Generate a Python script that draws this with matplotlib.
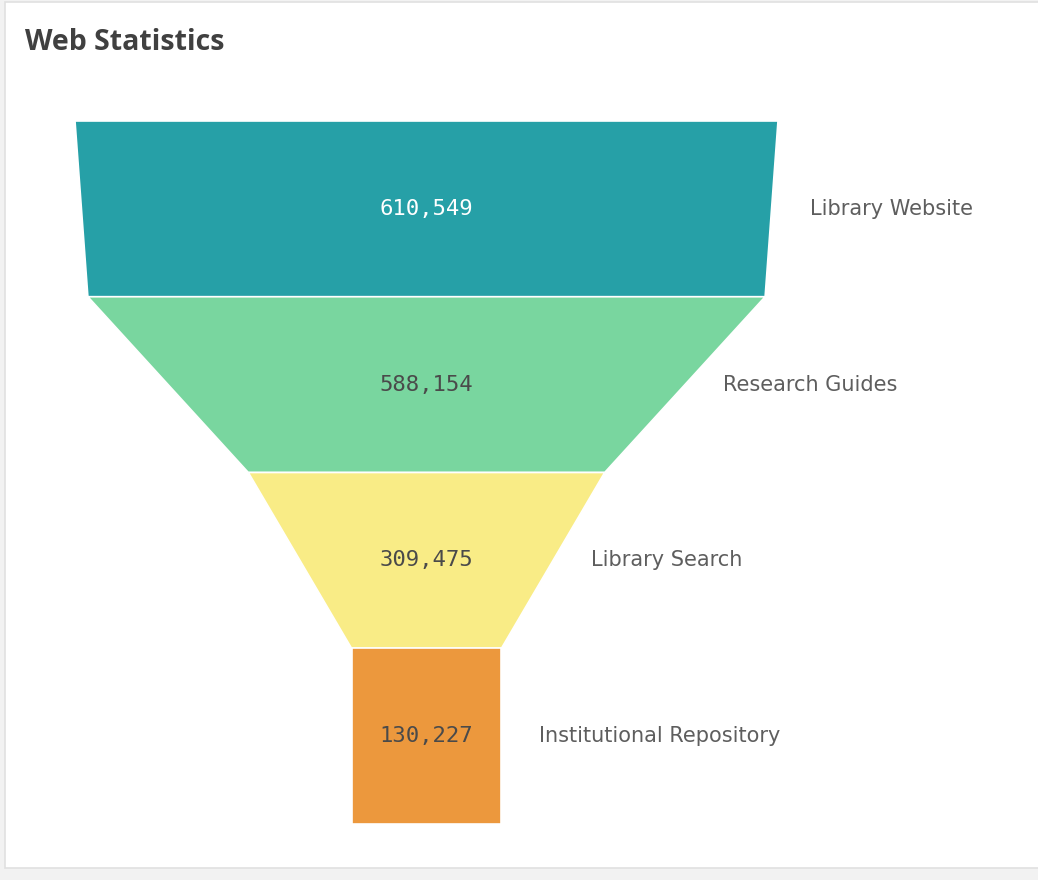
import matplotlib.pyplot as plt
from matplotlib.patches import Polygon, Rectangle

# -----------------------------------------
# Data
# -----------------------------------------

stages = ["Library Website", "Research Guides", "Library Search", "Institutional Repository"]
values = [610549, 588154, 309475, 130227]
colors = ["#26A0A7", "#79D69F", "#F9EC86", "#EC983D"]
value_colors = ["#ffffff", "#4a4a4a", "#4a4a4a", "#4a4a4a"]

# -----------------------------------------
# Figure / layout (pixel based)
# -----------------------------------------

W, H = 1038, 880
fig = plt.figure(figsize=(W / 100, H / 100), dpi=100)
fig.patch.set_facecolor("#f2f2f2")

# white card behind everything
card = Rectangle((5 / W, 12 / H), 1.2, 866 / H, transform=fig.transFigure,
                 facecolor="white", edgecolor="#e0e0e0", linewidth=1.2,
                 zorder=-10)
fig.patches.append(card)

ax = fig.add_axes([0, 0, 1, 1])
ax.set_facecolor("none")
ax.set_zorder(1)

cx_px = 426.5
top_px = 121
bottom_px = 824
px_per_val = 703 / max(values)
px_per_stage = (bottom_px - top_px) / len(values)

ax.set_xlim(-cx_px / px_per_val, (W - cx_px) / px_per_val)
ax.set_ylim((H - top_px) / px_per_stage, -top_px / px_per_stage)
ax.axis("off")

label_pad = 38 / px_per_val

for i, v in enumerate(values):
    nxt = values[i + 1] if i + 1 < len(values) else v
    pts = [(-v / 2, i), (v / 2, i), (nxt / 2, i + 1), (-nxt / 2, i + 1)]
    ax.add_patch(Polygon(pts, closed=True, facecolor=colors[i],
                         edgecolor="white", linewidth=1.2))
    ax.text(0, i + 0.5, f"{v:,}", ha="center", va="center",
            fontsize=16, family="DejaVu Sans Mono", color=value_colors[i])
    ax.text((v + nxt) / 4 + label_pad, i + 0.5, stages[i], ha="left",
            va="center", fontsize=15, family="DejaVu Sans", color="#5e5e5e")

fig.text(25 / W, 1 - 42 / H, "Web Statistics", ha="left", va="center",
         fontsize=20.5, fontweight="bold", family="Open Sans", color="#404040")

fig.savefig("out.png", dpi=100, facecolor=fig.get_facecolor())
